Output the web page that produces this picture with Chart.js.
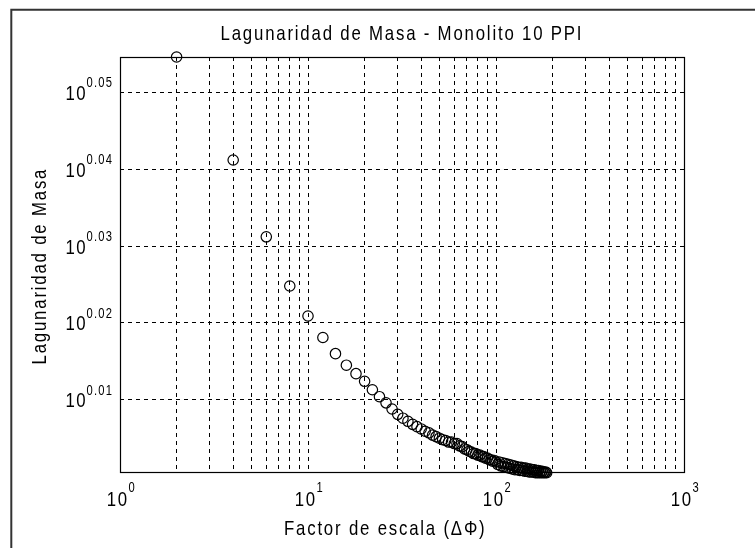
<!DOCTYPE html>
<html>
<head>
<meta charset="utf-8">
<script src="https://cdn.jsdelivr.net/npm/chart.js@4.4.1/dist/chart.umd.min.js"></script>
<style>
  html, body { margin: 0; padding: 0; background: #fff; }
  canvas { display: block; }
</style>
</head>
<body>
<canvas id="lagunaridad" width="755" height="548"></canvas>
<script>
const titulo = 'Lagunaridad de Masa - Monolito 10 PPI'
const etiquetaX = 'Factor de escala (ΔΦ)'
const etiquetaY = 'Lagunaridad de Masa'

// tamaño de caja usado en cada medida
const escala = [
  2, 4, 6, 8, 10, 12, 14, 16, 18, 20,
  22, 24, 26, 28, 30, 32, 34, 36, 38, 40,
  42, 44, 46, 48, 50, 52, 54, 56, 58, 60,
  62, 64, 66, 68, 70, 72, 74, 76, 78, 80,
  82, 84, 86, 88, 90, 92, 94, 96, 98, 100,
  102, 104, 106, 108, 110, 112, 114, 116, 118, 120,
  122, 124, 126, 128, 130, 132, 134, 136, 138, 140,
  142, 144, 146, 148, 150, 152, 154, 156, 158, 160,
  162, 164, 166, 168, 170, 172, 174, 176, 178, 180,
  182, 184, 186
]
// log10 de la lagunaridad para cada escala
const expLagunaridad = [
  0.0546, 0.0412, 0.0312, 0.0248, 0.0209, 0.0181, 0.0160, 0.0145, 0.0134, 0.0124,
  0.0113, 0.0104, 0.0096, 0.0088, 0.0081, 0.0076, 0.0072, 0.0068, 0.0065, 0.0062,
  0.0059, 0.0057, 0.0054, 0.0052, 0.0050, 0.0048, 0.0047, 0.0045, 0.0045, 0.0043,
  0.0043, 0.0040, 0.0039, 0.0036, 0.0035, 0.0033, 0.0032, 0.0030, 0.0030, 0.0028,
  0.0028, 0.0026, 0.0026, 0.0024, 0.0024, 0.0022, 0.0022, 0.0020, 0.0021, 0.0019,
  0.0016, 0.0019, 0.0014, 0.0018, 0.0013, 0.0017, 0.0012, 0.0016, 0.0011, 0.0015,
  0.0010, 0.0014, 0.0009, 0.0013, 0.0009, 0.0012, 0.0008, 0.0012, 0.0008, 0.0011,
  0.0007, 0.0011, 0.0007, 0.0010, 0.0006, 0.0010, 0.0006, 0.0009, 0.0006, 0.0009,
  0.0005, 0.0008, 0.0005, 0.0008, 0.0005, 0.0007, 0.0005, 0.0007, 0.0005, 0.0006,
  0.0005, 0.0006, 0.0005
]

const gridX = [1, 2, 3, 4, 5, 6, 7, 8, 9, 10, 20, 30, 40, 50, 60, 70, 80, 90,
  100, 200, 300, 400, 500, 600, 700, 800, 900, 1000]
const ticksX = [1, 10, 100, 1000]
const exponentesX = ['0', '1', '2', '3']
const ticksYExp = [0.01, 0.02, 0.03, 0.04, 0.05]
const exponentesY = ['0.01', '0.02', '0.03', '0.04', '0.05']
const limitesYExp = [0.0006, 0.0546]

const FUENTE = '"Liberation Sans", Arial, sans-serif'

// texto estrecho y espaciado, letra por letra
const texto = (ctx, s, x, y, size, align, sx = 0.8, gap = 1.8) => {
  ctx.font = `${size}px ${FUENTE}`
  const chars = [...s]
  const ws = chars.map(ch => ctx.measureText(ch).width * sx)
  const total = ws.reduce((a, b) => a + b, 0) + gap * (chars.length - 1)
  let cx = align === 'center' ? x - total / 2 : align === 'right' ? x - total : x
  ctx.textAlign = 'left'
  ctx.textBaseline = 'alphabetic'
  chars.forEach((ch, i) => {
    ctx.save()
    ctx.translate(cx, y)
    ctx.scale(sx, 1)
    ctx.fillText(ch, 0, 0)
    ctx.restore()
    cx += ws[i] + gap
  })
  return total
}

const decorado = {
  id: 'decorado',
  beforeDraw(chart) {
    const ctx = chart.ctx
    ctx.save()
    ctx.fillStyle = '#fff'
    ctx.fillRect(0, 0, chart.width, chart.height)
    ctx.restore()
  },
  beforeDatasetsDraw(chart) {
    const { ctx, chartArea: a } = chart
    ctx.save()
    ctx.strokeStyle = '#000'
    ctx.lineWidth = 1.2
    ctx.strokeRect(Math.round(a.left) + 0.5, Math.round(a.top) + 0.5,
      Math.round(a.right - a.left), Math.round(a.bottom - a.top))
    ctx.restore()
  },
  afterDraw(chart) {
    const { ctx, scales: { x, y } } = chart
    ctx.save()
    ctx.fillStyle = '#000'

    ticksX.forEach((v, i) => {
      const px = x.getPixelForValue(v)
      texto(ctx, '10', px + 7, 506, 21, 'right', 0.8, 1.5)
      texto(ctx, exponentesX[i], px + 8.5, 492, 14, 'left', 0.8, 1.2)
    })
    ticksYExp.forEach((e, i) => {
      const py = y.getPixelForValue(Math.pow(10, e))
      const w = texto(ctx, exponentesY[i], 112, py - 5, 14, 'right', 0.8, 1.2)
      texto(ctx, '10', 112 - w - 1, py + 7.5, 21, 'right', 0.8, 1.5)
    })

    texto(ctx, titulo, 401, 40, 21, 'center')
    texto(ctx, etiquetaX, 284, 535, 21, 'left')
    ctx.save()
    ctx.translate(46, 267)
    ctx.rotate(-Math.PI / 2)
    texto(ctx, etiquetaY, 0, 0, 21, 'center')
    ctx.restore()

    // marco exterior de la figura
    ctx.strokeStyle = '#333'
    ctx.lineWidth = 2
    ctx.beginPath()
    ctx.moveTo(11.3, chart.height)
    ctx.lineTo(11.3, 9.7)
    ctx.lineTo(chart.width, 9.7)
    ctx.stroke()
    ctx.restore()
  }
}

new Chart(document.getElementById('lagunaridad'), {
  type: 'scatter',
  data: {
    datasets: [{
      data: escala.map((v, i) => ({ x: v, y: Math.pow(10, expLagunaridad[i]) })),
      showLine: false,
      pointStyle: 'circle',
      pointRadius: 5.2,
      pointHoverRadius: 5.2,
      pointBackgroundColor: 'rgba(0,0,0,0)',
      pointBorderColor: '#000',
      pointBorderWidth: 1.2,
      clip: false
    }]
  },
  options: {
    responsive: false,
    animation: false,
    events: [],
    layout: { padding: { top: 57, right: 71, left: 0, bottom: 0 } },
    plugins: { legend: { display: false }, tooltip: { enabled: false }, title: { display: false } },
    scales: {
      x: {
        type: 'logarithmic',
        min: 1,
        max: 1000,
        afterBuildTicks: scale => { scale.ticks = gridX.map(v => ({ value: v })) },
        afterFit: scale => { scale.height = 76 },
        ticks: { display: false },
        grid: { color: '#000', lineWidth: 1, drawTicks: false },
        border: { display: false, dash: [4, 4] }
      },
      y: {
        type: 'logarithmic',
        min: Math.pow(10, limitesYExp[0]),
        max: Math.pow(10, limitesYExp[1]),
        afterBuildTicks: scale => { scale.ticks = ticksYExp.map(e => ({ value: Math.pow(10, e) })) },
        afterFit: scale => { scale.width = 120 },
        ticks: { display: false },
        grid: { color: '#000', lineWidth: 1, drawTicks: false },
        border: { display: false, dash: [4, 4] }
      }
    }
  },
  plugins: [decorado]
})
</script>
</body>
</html>
